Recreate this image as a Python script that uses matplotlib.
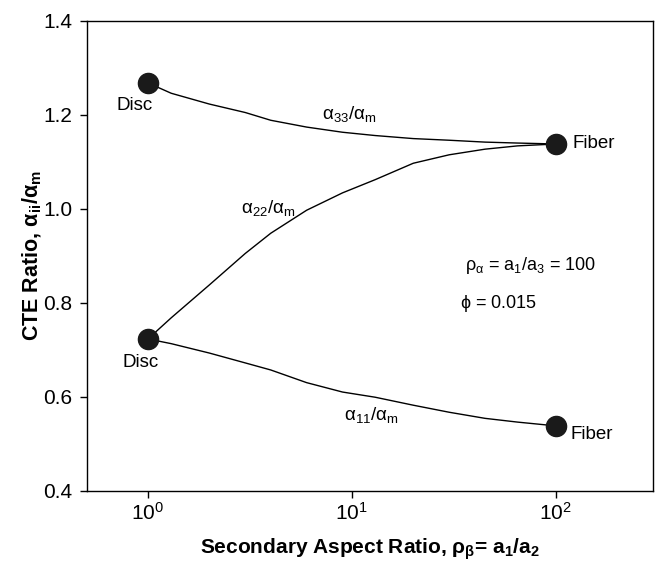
import matplotlib
matplotlib.use("Agg")
import matplotlib.pyplot as plt

plt.rcParams['font.family'] = ['Liberation Sans', 'DejaVu Sans']
plt.rcParams['mathtext.fontset'] = 'custom'
plt.rcParams['mathtext.rm'] = 'Liberation Sans'
plt.rcParams['mathtext.it'] = 'Liberation Sans:italic'
plt.rcParams['mathtext.bf'] = 'Liberation Sans:bold'
plt.rcParams['mathtext.sf'] = 'Liberation Sans'

# Data
aspect_ratio = [1, 1.3, 2, 3, 4, 6, 9, 13, 20, 30, 45, 65, 100]
alpha33 = [1.268, 1.246, 1.223, 1.205, 1.1885, 1.174, 1.163, 1.156, 1.1495, 1.146, 1.142, 1.140, 1.138]
alpha22 = [0.723, 0.768, 0.838, 0.905, 0.948, 0.997, 1.034, 1.062, 1.097, 1.115, 1.127, 1.134, 1.138]
alpha11 = [0.723, 0.713, 0.693, 0.672, 0.657, 0.630, 0.610, 0.599, 0.582, 0.567, 0.554, 0.546, 0.538]

end_x = [1, 100]
end_33 = [alpha33[0], alpha33[-1]]
end_11 = [alpha11[0], alpha11[-1]]

xticks = [1, 10, 100]
xticklabels = [r'$\mathrm{10^{0}}$', r'$\mathrm{10^{1}}$', r'$\mathrm{10^{2}}$']
yticks = [0.4, 0.6, 0.8, 1.0, 1.2, 1.4]
yticklabels = ['0.4', '0.6', '0.8', '1.0', '1.2', '1.4']

fig = plt.figure(figsize=(6.61, 5.65), dpi=100)
ax = fig.add_axes([0.131, 0.1315, 0.857, 0.8315])

for ys in (alpha33, alpha22, alpha11):
    ax.plot(aspect_ratio, ys, color='black', lw=1.0, zorder=2)

ax.plot(end_x, end_33, 'o', color='#1a1a1a', ms=14.5, zorder=3)
ax.plot(end_x, end_11, 'o', color='#1a1a1a', ms=14.5, zorder=3)

ax.set_xscale('log')
ax.set_xlim(0.5, 300)
ax.set_ylim(0.4, 1.4)
ax.set_xticks(xticks)
ax.set_xticklabels(xticklabels)
ax.xaxis.set_minor_locator(matplotlib.ticker.NullLocator())
ax.set_yticks(yticks)
ax.set_yticklabels(yticklabels)
ax.tick_params(axis='both', direction='out', length=5, width=1, labelsize=15)
ax.tick_params(axis='x', pad=3)
ax.tick_params(axis='y', pad=5)
for s in ax.spines.values():
    s.set_linewidth(1.0)

ax.set_xlabel(r'Secondary Aspect Ratio, $\mathbf{\rho_{\beta}}$= a$\mathbf{_1}$/a$\mathbf{_2}$',
              fontsize=15, fontweight='bold', labelpad=9)
ax.set_ylabel(r'CTE Ratio, $\mathbf{\alpha_{ii}/\alpha_m}$', fontsize=15.5, fontweight='bold', labelpad=0)

fs = 13.5
ax.text(0.86, 1.2206, 'Disc', fontsize=fs, ha='center', va='center')
ax.text(0.92, 0.672, 'Disc', fontsize=fs, ha='center', va='center')
ax.text(120.6, 1.138, 'Fiber', fontsize=fs, ha='left', va='center')
ax.text(118, 0.5206, 'Fiber', fontsize=fs, ha='left', va='center')
ax.text(9.72, 1.2015, r'$\mathrm{\alpha_{33}/\alpha_m}$', fontsize=fs, ha='center', va='center')
ax.text(3.88, 1.0015, r'$\mathrm{\alpha_{22}/\alpha_m}$', fontsize=fs, ha='center', va='center')
ax.text(12.4, 0.561, r'$\mathrm{\alpha_{11}/\alpha_m}$', fontsize=fs, ha='center', va='center')
ax.text(36.0, 0.880, r'$\mathrm{\rho_{\alpha}}$ = a$\mathrm{_1}$/a$\mathrm{_3}$ = 100', fontsize=13, ha='left', va='center')
ax.text(34.0, 0.799, r'$\mathrm{\phi}$ = 0.015', fontsize=13, ha='left', va='center')

fig.savefig('out.png', dpi=100)
